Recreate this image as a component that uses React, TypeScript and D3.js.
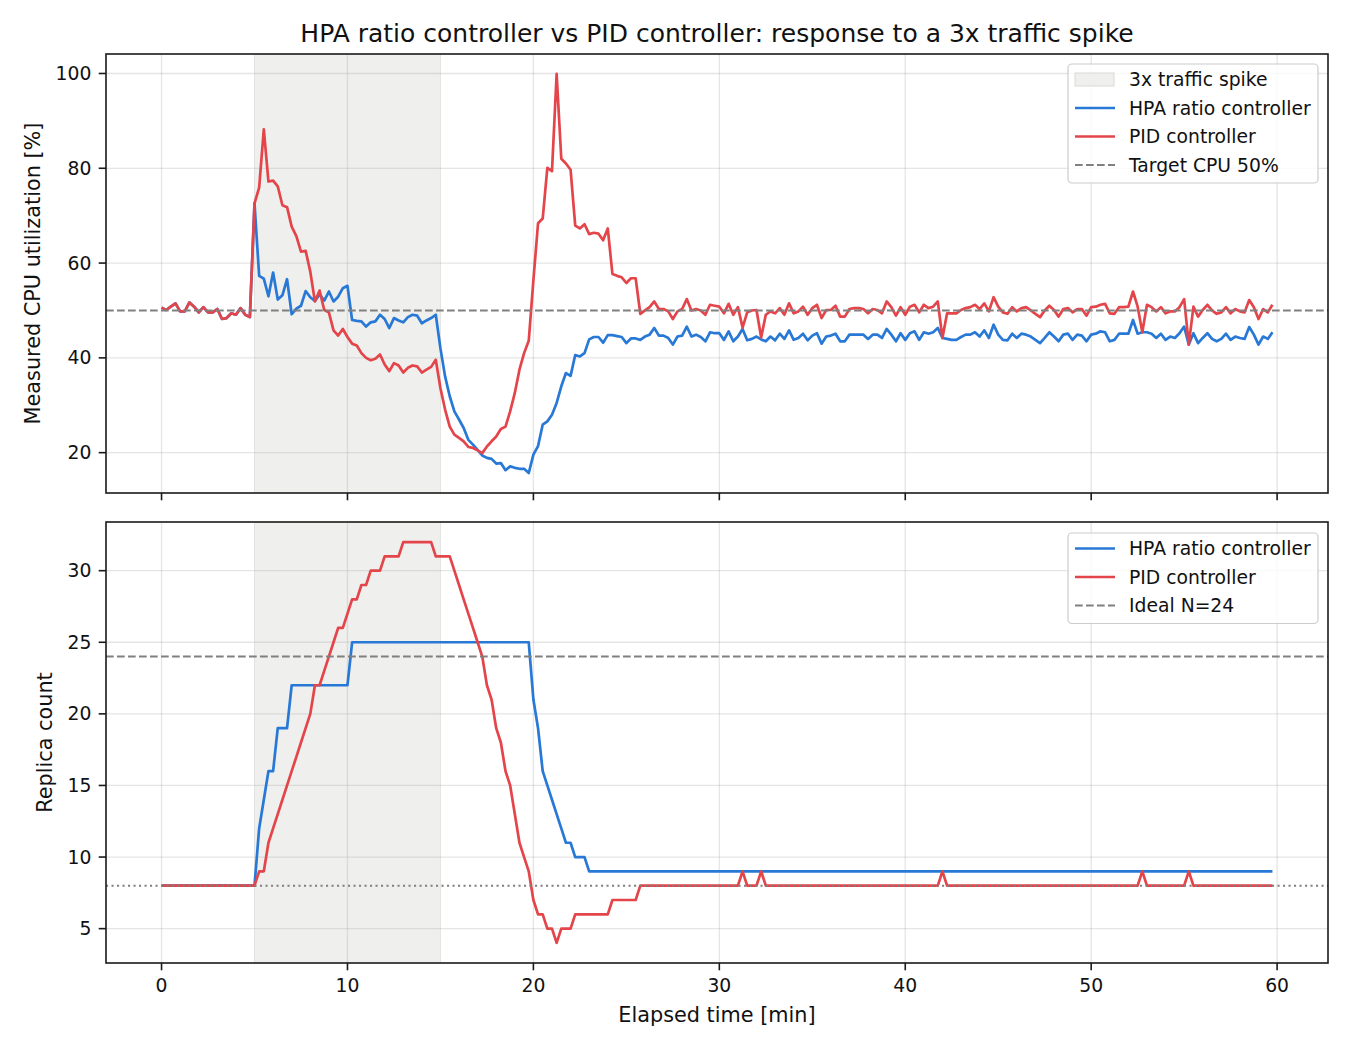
import React from 'react';
import * as d3 from 'd3';

// ---------- data ----------
const TIME = d3.range(0, 60, 0.25); // sample times [min]
const SPIKE_START = 5;
const SPIKE_END = 15;
const TARGET_CPU = 50;
const IDEAL_N = 24;
const BASE_N = 8;

const X_TICKS = [0, 10, 20, 30, 40, 50, 60];
const CPU_TICKS = [20, 40, 60, 80, 100];
const REP_TICKS = [5, 10, 15, 20, 25, 30];

const PID_CPU = [
  50.6, 50.1, 50.8, 51.5, 49.8, 49.8, 51.7, 50.8, 49.6, 50.7, 49.6, 49.6, 50.3, 48.2, 48.4, 49.4, 49.1, 50.5, 49.1, 48.6,
  72.6, 75.9, 88.2, 77.2, 77.4, 76.2, 72.2, 71.8, 67.7, 65.7, 62.4, 62.6, 58.2, 51.9, 54.2, 50.1, 49.6, 45.8, 44.7, 46.1,
  44.4, 43.0, 42.6, 41.0, 40.0, 39.5, 39.8, 40.7, 38.6, 37.2, 38.9, 38.4, 36.9, 37.9, 38.4, 38.2, 36.9, 37.5, 38.1, 39.6,
  33.6, 29.1, 25.5, 23.8, 23.1, 22.4, 21.2, 21.0, 20.5, 19.9, 21.3, 22.4, 23.4, 25.0, 25.5, 28.7, 32.6, 37.5, 41.0, 43.6,
  56.4, 68.4, 69.4, 80.1, 79.4, 99.9, 82.0, 81.0, 79.7, 67.9, 67.3, 68.2, 66.1, 66.4, 66.2, 64.8, 67.3, 57.7, 57.3, 57.0,
  55.8, 56.8, 56.8, 49.3, 50.0, 50.7, 51.9, 50.3, 50.3, 49.8, 48.2, 49.8, 50.3, 52.4, 50.0, 50.3, 50.0, 49.1, 51.2, 51.0,
  50.8, 49.4, 51.4, 49.1, 50.7, 46.4, 49.6, 50.0, 50.1, 44.3, 49.1, 49.8, 49.4, 50.5, 49.1, 51.5, 49.4, 49.8, 50.8, 49.1,
  50.5, 51.2, 48.4, 50.1, 50.1, 51.0, 48.7, 48.7, 50.3, 50.5, 50.5, 50.3, 49.4, 50.3, 50.1, 49.4, 51.9, 50.7, 48.9, 50.7,
  49.1, 50.8, 51.2, 49.6, 51.2, 50.5, 50.8, 51.9, 44.2, 49.4, 49.4, 49.4, 50.1, 50.5, 50.7, 51.2, 50.3, 51.5, 49.8, 52.8,
  50.8, 49.6, 49.3, 50.7, 49.8, 50.5, 50.7, 50.0, 49.3, 48.6, 50.0, 51.0, 50.1, 48.7, 50.3, 50.5, 49.6, 50.3, 50.3, 48.9,
  50.7, 50.8, 51.2, 51.4, 49.4, 49.3, 50.7, 50.7, 50.8, 54.0, 50.8, 45.4, 51.2, 50.7, 49.8, 50.7, 49.4, 49.8, 49.8, 50.7,
  52.4, 42.8, 50.8, 48.7, 50.1, 51.2, 50.0, 49.3, 49.6, 50.7, 49.4, 50.3, 49.8, 49.6, 52.2, 50.7, 48.2, 50.3, 49.6, 51.2,
];

const HPA_CPU = [
  50.6, 50.1, 50.8, 51.5, 49.8, 49.8, 51.7, 50.8, 49.6, 50.7, 49.6, 49.6, 50.3, 48.2, 48.4, 49.4, 49.1, 50.5, 49.1, 48.6,
  72.6, 57.3, 56.7, 53.0, 58.0, 52.3, 53.2, 56.6, 49.2, 50.4, 51.0, 54.1, 52.8, 52.0, 53.4, 52.1, 54.0, 51.9, 52.9, 54.7,
  55.2, 48.0, 47.8, 47.7, 46.6, 47.5, 47.7, 49.1, 48.2, 46.3, 48.4, 47.9, 47.5, 48.6, 49.1, 48.9, 47.3, 47.9, 48.4, 49.1,
  42.0, 36.1, 31.9, 28.7, 27.0, 25.2, 22.7, 21.7, 20.6, 19.4, 18.9, 18.7, 17.7, 17.8, 16.3, 17.1, 16.8, 16.6, 16.6, 15.7,
  19.6, 21.4, 25.9, 26.6, 28.0, 30.5, 34.0, 36.8, 36.2, 40.6, 40.3, 41.0, 43.9, 44.4, 44.4, 43.2, 44.8, 44.8, 44.6, 44.4,
  43.1, 44.1, 44.1, 43.8, 44.5, 44.9, 46.3, 44.7, 44.7, 44.2, 42.8, 44.5, 44.7, 46.6, 44.5, 44.9, 44.4, 43.5, 45.4, 45.2,
  45.2, 43.8, 45.6, 43.5, 44.5, 46.1, 43.7, 44.0, 44.5, 43.9, 43.5, 44.5, 43.7, 45.1, 44.0, 45.8, 43.8, 44.2, 45.1, 43.7,
  44.7, 45.2, 43.0, 44.5, 44.7, 45.1, 43.5, 43.5, 44.9, 44.9, 44.9, 44.9, 44.0, 44.9, 44.9, 44.2, 46.1, 44.9, 43.5, 45.2,
  43.8, 45.2, 45.6, 43.8, 45.4, 45.1, 45.4, 46.3, 44.2, 44.0, 43.8, 43.8, 44.4, 44.9, 44.9, 45.4, 44.5, 45.8, 44.2, 47.0,
  44.9, 43.8, 43.7, 45.1, 44.2, 45.1, 44.9, 44.5, 43.8, 43.1, 44.2, 45.4, 44.5, 43.5, 44.9, 45.1, 43.8, 44.9, 44.7, 43.5,
  44.9, 45.1, 45.6, 45.4, 43.5, 43.8, 45.1, 45.1, 45.1, 48.0, 45.1, 45.4, 45.4, 45.1, 44.2, 45.1, 43.8, 44.5, 44.2, 45.2,
  46.6, 42.8, 45.2, 43.1, 44.2, 45.2, 44.0, 43.5, 44.0, 45.1, 43.8, 44.5, 44.2, 44.0, 46.5, 44.9, 42.8, 44.5, 44.0, 45.4,
];

const HPA_REPLICAS = [
  8, 8, 8, 8, 8, 8, 8, 8, 8, 8, 8, 8, 8, 8, 8, 8, 8, 8, 8, 8,
  8, 12, 14, 16, 16, 19, 19, 19, 22, 22, 22, 22, 22, 22, 22, 22, 22, 22, 22, 22,
  22, 25, 25, 25, 25, 25, 25, 25, 25, 25, 25, 25, 25, 25, 25, 25, 25, 25, 25, 25,
  25, 25, 25, 25, 25, 25, 25, 25, 25, 25, 25, 25, 25, 25, 25, 25, 25, 25, 25, 25,
  21, 19, 16, 15, 14, 13, 12, 11, 11, 10, 10, 10, 9, 9, 9, 9, 9, 9, 9, 9,
  9, 9, 9, 9, 9, 9, 9, 9, 9, 9, 9, 9, 9, 9, 9, 9, 9, 9, 9, 9,
  9, 9, 9, 9, 9, 9, 9, 9, 9, 9, 9, 9, 9, 9, 9, 9, 9, 9, 9, 9,
  9, 9, 9, 9, 9, 9, 9, 9, 9, 9, 9, 9, 9, 9, 9, 9, 9, 9, 9, 9,
  9, 9, 9, 9, 9, 9, 9, 9, 9, 9, 9, 9, 9, 9, 9, 9, 9, 9, 9, 9,
  9, 9, 9, 9, 9, 9, 9, 9, 9, 9, 9, 9, 9, 9, 9, 9, 9, 9, 9, 9,
  9, 9, 9, 9, 9, 9, 9, 9, 9, 9, 9, 9, 9, 9, 9, 9, 9, 9, 9, 9,
  9, 9, 9, 9, 9, 9, 9, 9, 9, 9, 9, 9, 9, 9, 9, 9, 9, 9, 9, 9,
];

const PID_REPLICAS = [
  8, 8, 8, 8, 8, 8, 8, 8, 8, 8, 8, 8, 8, 8, 8, 8, 8, 8, 8, 8,
  8, 9, 9, 11, 12, 13, 14, 15, 16, 17, 18, 19, 20, 22, 22, 23, 24, 25, 26, 26,
  27, 28, 28, 29, 29, 30, 30, 30, 31, 31, 31, 31, 32, 32, 32, 32, 32, 32, 32, 31,
  31, 31, 31, 30, 29, 28, 27, 26, 25, 24, 22, 21, 19, 18, 16, 15, 13, 11, 10, 9,
  7, 6, 6, 5, 5, 4, 5, 5, 5, 6, 6, 6, 6, 6, 6, 6, 6, 7, 7, 7,
  7, 7, 7, 8, 8, 8, 8, 8, 8, 8, 8, 8, 8, 8, 8, 8, 8, 8, 8, 8,
  8, 8, 8, 8, 8, 9, 8, 8, 8, 9, 8, 8, 8, 8, 8, 8, 8, 8, 8, 8,
  8, 8, 8, 8, 8, 8, 8, 8, 8, 8, 8, 8, 8, 8, 8, 8, 8, 8, 8, 8,
  8, 8, 8, 8, 8, 8, 8, 8, 9, 8, 8, 8, 8, 8, 8, 8, 8, 8, 8, 8,
  8, 8, 8, 8, 8, 8, 8, 8, 8, 8, 8, 8, 8, 8, 8, 8, 8, 8, 8, 8,
  8, 8, 8, 8, 8, 8, 8, 8, 8, 8, 8, 9, 8, 8, 8, 8, 8, 8, 8, 8,
  8, 9, 8, 8, 8, 8, 8, 8, 8, 8, 8, 8, 8, 8, 8, 8, 8, 8, 8, 8,
];

// ---------- style ----------
const FONT = '"DejaVu Sans", Verdana, sans-serif';
const BLUE = '#2878d6';
const RED = '#e3454a';
const SHADE = '#efefed';
const GRID = '#b0b0b0';
const REF = '#808080';
const W = 1350;
const H = 1050;
const LEFT = 106;
const RIGHT = 1328;
const TOP1 = 54;
const BOT1 = 493;
const TOP2 = 522;
const BOT2 = 963;
const TICK_FS = 18.75;
const LABEL_FS = 20.8;
const LEGEND_FS = 18.75;
const LINE_W = 2.7;

function padded(lo: number, hi: number) {
  const m = (hi - lo) * 0.05;
  return [lo - m, hi + m];
}

const xExt = d3.extent(TIME) as [number, number];
const x = d3.scaleLinear().domain(padded(xExt[0], xExt[1])).range([LEFT, RIGHT]);
const cpuAll = [...HPA_CPU, ...PID_CPU];
const yCpu = d3
  .scaleLinear()
  .domain(padded(d3.min(cpuAll)!, d3.max(cpuAll)!))
  .range([BOT1, TOP1]);
const repAll = [...HPA_REPLICAS, ...PID_REPLICAS];
const yRep = d3
  .scaleLinear()
  .domain(padded(d3.min(repAll)!, d3.max(repAll)!))
  .range([BOT2, TOP2]);

function pathFor(values: number[], y: d3.ScaleLinear<number, number>) {
  return d3
    .line<number>()
    .x((_, i) => x(TIME[i]))
    .y((v) => y(v))(values) as string;
}

type LegendItem = { label: string; kind: 'patch' | 'line' | 'dash'; color: string };

function Legend({ x0, y0, items }: { x0: number; y0: number; items: LegendItem[] }) {
  const rowH = 28.5;
  const w = 250;
  const h = rowH * items.length + 5;
  return (
    <g>
      <rect x={x0} y={y0} width={w} height={h} rx={4} ry={4} fill="white" fillOpacity={0.8} stroke="#cccccc" strokeWidth={1.2} />
      {items.map((it, i) => {
        const cy = y0 + 15.5 + i * rowH;
        return (
          <g key={it.label}>
            {it.kind === 'patch' && (
              <rect x={x0 + 7} y={cy - 6.5} width={39} height={13} fill={SHADE} stroke="#dadad6" strokeWidth={1} />
            )}
            {it.kind === 'line' && (
              <line x1={x0 + 7} x2={x0 + 47} y1={cy} y2={cy} stroke={it.color} strokeWidth={LINE_W} />
            )}
            {it.kind === 'dash' && (
              <line x1={x0 + 7} x2={x0 + 47} y1={cy} y2={cy} stroke={it.color} strokeWidth={2} strokeDasharray="7.7,3.3" />
            )}
            <text x={x0 + 61} y={cy} dominantBaseline="central" fontSize={LEGEND_FS} fontFamily={FONT} fill="#111">
              {it.label}
            </text>
          </g>
        );
      })}
    </g>
  );
}

function Panel({
  top,
  bottom,
  y,
  yTicks,
  showXLabels,
  children,
  clipId,
}: {
  top: number;
  bottom: number;
  y: d3.ScaleLinear<number, number>;
  yTicks: number[];
  showXLabels: boolean;
  children: React.ReactNode;
  clipId: string;
}) {
  return (
    <g>
      <defs>
        <clipPath id={clipId}>
          <rect x={LEFT} y={top} width={RIGHT - LEFT} height={bottom - top} />
        </clipPath>
      </defs>
      <rect x={LEFT} y={top} width={RIGHT - LEFT} height={bottom - top} fill="white" />
      <rect
        x={x(SPIKE_START)}
        y={top}
        width={x(SPIKE_END) - x(SPIKE_START)}
        height={bottom - top}
        fill={SHADE}
      />
      <line x1={x(SPIKE_START)} x2={x(SPIKE_START)} y1={top} y2={bottom} stroke="#e2e2de" strokeWidth={1} />
      <line x1={x(SPIKE_END)} x2={x(SPIKE_END)} y1={top} y2={bottom} stroke="#e2e2de" strokeWidth={1} />
      {X_TICKS.map((t) => (
        <line key={'gx' + t} x1={x(t)} x2={x(t)} y1={top} y2={bottom} stroke={GRID} strokeOpacity={0.33} strokeWidth={1.3} />
      ))}
      {yTicks.map((t) => (
        <line key={'gy' + t} x1={LEFT} x2={RIGHT} y1={y(t)} y2={y(t)} stroke={GRID} strokeOpacity={0.33} strokeWidth={1.3} />
      ))}
      <g clipPath={`url(#${clipId})`}>{children}</g>
      <rect x={LEFT} y={top} width={RIGHT - LEFT} height={bottom - top} fill="none" stroke="#1a1a1a" strokeWidth={1.6} />
      {X_TICKS.map((t) => (
        <g key={'tx' + t}>
          <line x1={x(t)} x2={x(t)} y1={bottom} y2={bottom + 7.3} stroke="#1a1a1a" strokeWidth={1.6} />
          {showXLabels && (
            <text x={x(t)} y={bottom + 29} textAnchor="middle" fontSize={TICK_FS} fontFamily={FONT} fill="#111">
              {t}
            </text>
          )}
        </g>
      ))}
      {yTicks.map((t) => (
        <g key={'ty' + t}>
          <line x1={LEFT - 7.3} x2={LEFT} y1={y(t)} y2={y(t)} stroke="#1a1a1a" strokeWidth={1.6} />
          <text x={LEFT - 14.6} y={y(t)} textAnchor="end" dominantBaseline="central" fontSize={TICK_FS} fontFamily={FONT} fill="#111">
            {t}
          </text>
        </g>
      ))}
    </g>
  );
}

export default function App() {
  return (
    <svg
      width={W}
      height={H}
      viewBox={`0 0 ${W} ${H}`}
      style={{ position: 'absolute', left: 0, top: 0, background: 'white' }}
    >
      <rect x={0} y={0} width={W} height={H} fill="white" />
      <text x={(LEFT + RIGHT) / 2} y={42} textAnchor="middle" fontSize={25} fontFamily={FONT} fill="#111">
        HPA ratio controller vs PID controller: response to a 3x traffic spike
      </text>

      <Panel top={TOP1} bottom={BOT1} y={yCpu} yTicks={CPU_TICKS} showXLabels={false} clipId="clipTop">
        <path d={pathFor(HPA_CPU, yCpu)} fill="none" stroke={BLUE} strokeWidth={LINE_W} strokeLinejoin="round" />
        <path d={pathFor(PID_CPU, yCpu)} fill="none" stroke={RED} strokeWidth={LINE_W} strokeLinejoin="round" />
        <line x1={LEFT} x2={RIGHT} y1={yCpu(TARGET_CPU)} y2={yCpu(TARGET_CPU)} stroke={REF} strokeWidth={2} strokeDasharray="7.7,3.3" />
      </Panel>

      <Panel top={TOP2} bottom={BOT2} y={yRep} yTicks={REP_TICKS} showXLabels={true} clipId="clipBottom">
        <path d={pathFor(HPA_REPLICAS, yRep)} fill="none" stroke={BLUE} strokeWidth={LINE_W} strokeLinejoin="round" />
        <path d={pathFor(PID_REPLICAS, yRep)} fill="none" stroke={RED} strokeWidth={LINE_W} strokeLinejoin="round" />
        <line x1={LEFT} x2={RIGHT} y1={yRep(IDEAL_N)} y2={yRep(IDEAL_N)} stroke={REF} strokeWidth={2} strokeDasharray="7.7,3.3" />
        <line x1={LEFT} x2={RIGHT} y1={yRep(BASE_N)} y2={yRep(BASE_N)} stroke={REF} strokeWidth={2} strokeDasharray="2.1,3.4" />
      </Panel>

      <Legend
        x0={1068}
        y0={64}
        items={[
          { label: '3x traffic spike', kind: 'patch', color: SHADE },
          { label: 'HPA ratio controller', kind: 'line', color: BLUE },
          { label: 'PID controller', kind: 'line', color: RED },
          { label: 'Target CPU 50%', kind: 'dash', color: REF },
        ]}
      />
      <Legend
        x0={1068}
        y0={533}
        items={[
          { label: 'HPA ratio controller', kind: 'line', color: BLUE },
          { label: 'PID controller', kind: 'line', color: RED },
          { label: 'Ideal N=24', kind: 'dash', color: REF },
        ]}
      />

      <text
        transform={`translate(33, ${(TOP1 + BOT1) / 2}) rotate(-90)`}
        textAnchor="middle"
        dominantBaseline="central"
        fontSize={LABEL_FS}
        fontFamily={FONT}
        fill="#111"
      >
        Measured CPU utilization [%]
      </text>
      <text
        transform={`translate(45, ${(TOP2 + BOT2) / 2}) rotate(-90)`}
        textAnchor="middle"
        dominantBaseline="central"
        fontSize={LABEL_FS}
        fontFamily={FONT}
        fill="#111"
      >
        Replica count
      </text>
      <text x={(LEFT + RIGHT) / 2} y={1022} textAnchor="middle" fontSize={LABEL_FS} fontFamily={FONT} fill="#111">
        Elapsed time [min]
      </text>
    </svg>
  );
}
